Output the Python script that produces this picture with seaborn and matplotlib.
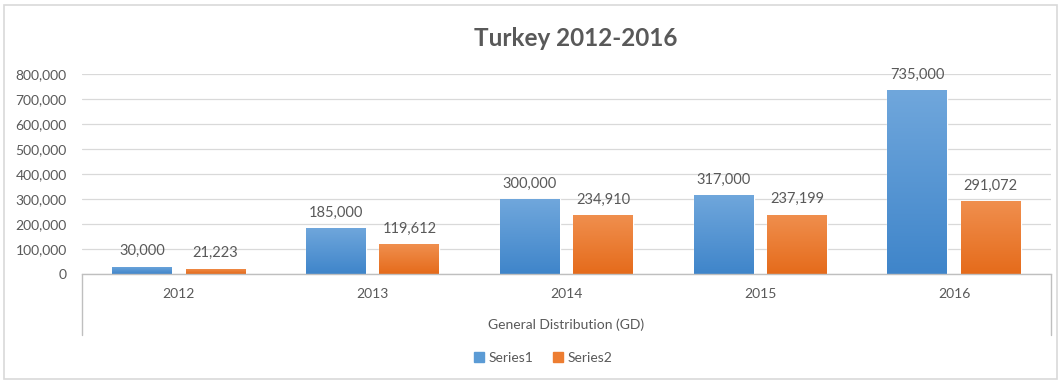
import numpy as np
import pandas as pd
import matplotlib
matplotlib.use("Agg")
import matplotlib.pyplot as plt
import matplotlib.colors as mcolors
from matplotlib.lines import Line2D
from matplotlib.patches import Rectangle
from matplotlib.ticker import FuncFormatter
import seaborn as sns

# Data
years = ["2012", "2013", "2014", "2015", "2016"]
series1 = [30000, 185000, 300000, 317000, 735000]
series2 = [21223, 119612, 234910, 237199, 291072]
series_names = ["Series1", "Series2"]
title = "Turkey 2012-2016"
group_label = "General Distribution (GD)"

df = pd.DataFrame({
    "year": years * 2,
    "value": series1 + series2,
    "series": [series_names[0]] * len(years) + [series_names[1]] * len(years),
})

TEXT = "#595959"
GRID = "#d9d9d9"
AXIS = "#bfbfbf"
base_colors = {"Series1": "#5b9bd5", "Series2": "#ed7d31"}
grad = {
    "Series1": ("#70a7dc", "#3f85ca"),
    "Series2": ("#f08f4e", "#e56b1b"),
}

sns.set_theme(style="white")
plt.rcParams["font.family"] = ["Lato", "DejaVu Sans"]

W, H = 1058, 381
fig = plt.figure(figsize=(W / 100, H / 100), dpi=100)
ax = fig.add_axes([82 / W, 1 - 274 / H, (1051 - 82) / W, (274 - 74) / H])

sns.barplot(data=df, x="year", y="value", hue="series", palette=base_colors,
            width=0.758, gap=0.185, ax=ax, legend=False, saturation=1)

ax.set_ylim(0, 800000)
ax.set_xlim(-0.5, len(years) - 0.5)
ax.set_yticks(np.arange(0, 800001, 100000))
ax.yaxis.set_major_formatter(FuncFormatter(lambda v, p: f"{int(v):,}"))
ax.grid(axis="y", color=GRID, linewidth=0.9)
ax.set_axisbelow(True)
for s in ["top", "right", "left"]:
    ax.spines[s].set_visible(False)
ax.spines["bottom"].set_color(AXIS)
ax.spines["bottom"].set_linewidth(1.0)
ax.tick_params(axis="y", length=0, pad=11, labelsize=10, labelcolor=TEXT)
ax.tick_params(axis="x", length=0, pad=10, labelsize=10, labelcolor=TEXT)
ax.set_xlabel("")
ax.set_ylabel("")

# Vertical gradient fill on each bar, plus value labels
patches = [p for p in ax.patches if p.get_height() > 0]
patches.sort(key=lambda p: p.get_x())
for p in patches:
    fc = mcolors.to_hex(p.get_facecolor())
    name = "Series1" if fc == mcolors.to_hex(base_colors["Series1"]) else "Series2"
    top_c, bot_c = grad[name]
    cmap = mcolors.LinearSegmentedColormap.from_list("g", [bot_c, top_c])
    x0, w, h = p.get_x(), p.get_width(), p.get_height()
    img = ax.imshow(np.linspace(0, 1, 256).reshape(-1, 1), cmap=cmap,
                    extent=[x0, x0 + w, 0, h], origin="lower",
                    aspect="auto", zorder=p.get_zorder() + 0.1)
    img.set_clip_path(p)
    ax.annotate(f"{int(round(h)):,}", (x0 + w / 2, h), xytext=(0, 6),
                textcoords="offset points", ha="center", va="bottom",
                fontsize=10.5, color=TEXT)
ax.set_xlim(-0.5, len(years) - 0.5)
ax.set_ylim(0, 800000)

# Category box below the axis
y_top = 1 - 274 / H
y_bot = 1 - 335 / H
for xp in (82, 1051):
    fig.add_artist(Line2D([xp / W, xp / W], [y_top, y_bot], color=AXIS, linewidth=1.0))
fig.text((82 + 1051) / 2 / W, 1 - 325 / H, group_label, ha="center", va="center",
         fontsize=10, color=TEXT)

# Title
fig.text(576 / W, 1 - 38 / H, title, ha="center", va="center",
         fontsize=17.5, fontweight="bold", color=TEXT)

# Legend
handles = [Line2D([0], [0], marker="s", linestyle="none", markersize=6.5,
                  markerfacecolor=base_colors[n], markeredgecolor=base_colors[n])
           for n in series_names]
fig.legend(handles, series_names, loc="center", bbox_to_anchor=(543 / W, 1 - 358 / H),
           ncol=2, frameon=False, fontsize=10, labelcolor=TEXT,
           handlelength=0.8, handletextpad=0.3, columnspacing=1.4)

# Outer chart border
fig.add_artist(Rectangle((4 / W, 2 / H), 1 - 5 / W, 1 - 7 / H, transform=fig.transFigure,
                         fill=False, edgecolor=GRID, linewidth=1.2))

fig.savefig("out.png", dpi=100, facecolor="white")
